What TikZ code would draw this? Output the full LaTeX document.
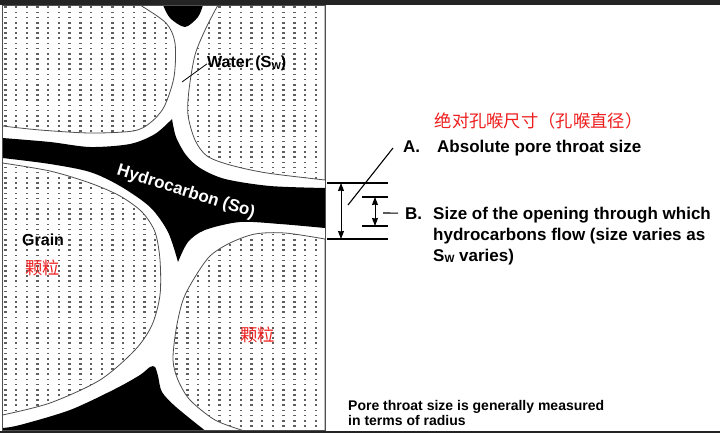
\documentclass[tikz,border=0pt]{standalone}
\usepackage{fontspec}
\setmainfont{Liberation Sans}
\newfontfamily\cjk{Noto Sans CJK SC}
\usetikzlibrary{arrows.meta}
\definecolor{cnred}{RGB}{238,30,30}
\definecolor{bar}{RGB}{36,36,36}
\definecolor{rim}{RGB}{78,78,78}
\definecolor{dot}{RGB}{95,95,95}
\newcommand{\Sw}{S\raisebox{-1.2pt}{\scalebox{0.62}{W}}}
\newcommand{\grainTL}{(2.5,5) -- plot[smooth] coordinates {(140,5) (166,23) (175,43) (174,77) (164,107) (150,123) (133,131) (90,133) (40,130) (2.5,126)} -- cycle}
\newcommand{\grainTR}{(325,5) -- (325,180) -- plot[smooth] coordinates {(325,180) (267,173) (230,165) (207,156) (195,140) (188,115) (189,90) (195,55) (206,28) (218,5)} -- cycle}
\newcommand{\grainBL}{(2.5,163) -- plot[smooth] coordinates {(2.5,163) (50,171) (90,183) (120,196) (142,212) (155,232) (160,260) (160,295) (152,325) (135,350) (100,380) (50,403) (2.5,415)} -- cycle}
\newcommand{\grainBR}{(325,430.5) -- plot[smooth] coordinates {(243,430.5) (215,420) (190,400) (178,380) (173,360) (176,330) (183,300) (195,277) (210,256) (230,243) (255,234) (285,233) (325,239)} -- cycle}

\begin{document}
\begin{tikzpicture}[x=1pt,y=-1pt,
  grain/.style={draw=rim,line width=0.8pt},
  oil/.style={fill=black},
  lbl/.style={inner sep=0pt,font=\fontsize{16}{19}\selectfont\bfseries},
  big/.style={inner sep=0pt,font=\fontsize{17}{21}\selectfont\bfseries},
  cn/.style={inner sep=0pt,text=cnred,font=\cjk\fontsize{17.3}{20}\selectfont},
  dim/.style={line width=1.3pt},
  dimarrow/.style={line width=0.9pt,{Stealth[length=8pt,width=6pt,inset=0.5pt]}-{Stealth[length=8pt,width=6pt,inset=0.5pt]}},
  leader/.style={line width=1.1pt}]
  \useasboundingbox (0,0) rectangle (720,433);
  \fill[white] (0,0) rectangle (720,433);

  \begin{scope}
    \clip \grainTL \grainTR \grainBL \grainBR;
    \foreach \i in {0,...,30}
      \foreach \j in {0,...,82}
        \fill[dot] ({4.2+10.7*\i},{6.4+5.17*\j}) rectangle ++(2.4,1.6);
  \end{scope}
  \draw[grain] \grainTL;
  \draw[grain] \grainTR;
  \draw[grain] \grainBL;
  \draw[grain] \grainBR;

  \fill[oil] (163,5) -- plot[smooth] coordinates {(163,5) (170,18) (185,27) (198,17) (203,5)} -- cycle;
  \fill[oil] (2.5,138) -- plot[smooth] coordinates {(2.5,138) (50,142) (90,147) (130,144) (155,134) (172,119)}
    -- plot[smooth] coordinates {(172,119) (176,137) (186,155) (200,168) (225,179) (270,186) (325,188)}
    -- (325,228) -- plot[smooth] coordinates {(325,228) (280,224) (240,222) (205,230) (188,242) (178,262)}
    -- plot[smooth] coordinates {(178,262) (168,232) (150,207) (120,186) (90,172) (50,164) (2.5,158)} -- cycle;
  \fill[oil] (2.5,430.5) -- plot[smooth] coordinates {(2.5,428) (20,425) (70,410) (115,389) (140,375) (150,367) (155,367) (158,376) (162,392) (176,407) (205,430.5)} -- cycle;

  \draw[rim,line width=0.8pt] (2.5,5) rectangle (325,430.5);
  \fill[bar] (0,0) rectangle (720,5);
  \fill[bar] (0,430.5) rectangle (720,433);

  \node[lbl,anchor=base west] (water) at (207,68) {Water (\Sw)};
  \coordinate (wFoot) at (182,82);
  \draw[line width=0.8pt] (wFoot) -- (water.west);
  \node[lbl,anchor=base west] (grain) at (22,245) {Grain};
  \node[cn] (grainCn) at (42.5,268) {颗粒};
  \node[cn] (grainCn2) at (257.5,335) {颗粒};
  \node[big,text=white,rotate=-17.5] (hc) at (186,192) {Hydrocarbon (So)};

  \node[cn] (sizeCn) at (538.5,121) {绝对孔喉尺寸（孔喉直径）};
  \node[big,anchor=base west] (markA) at (403,153) {A.};
  \node[big,anchor=base west] (textA) at (437,153) {Absolute pore throat size};
  \node[big,anchor=base west] (markB) at (405,219) {B.};
  \node[big,anchor=base west,align=left] (textB) at (433,261) {Size of the opening through which\\hydrocarbons flow (size varies as\\\Sw{} varies)};
  \node[anchor=base west,inner sep=0pt,align=left,font=\fontsize{14}{14.5}\selectfont\bfseries] (note) at (348,425) {Pore throat size is generally measured\\in terms of radius};

  \coordinate (aTopL) at (327,183); \coordinate (aTopR) at (388,183);
  \coordinate (aBotL) at (327,239); \coordinate (aBotR) at (388,239);
  \coordinate (bTopL) at (362,197); \coordinate (bTopR) at (388,197);
  \coordinate (bBotL) at (362,226); \coordinate (bBotR) at (388,226);
  \coordinate (aUp) at (341,183); \coordinate (aDown) at (341,239);
  \coordinate (bUp) at (375,197); \coordinate (bDown) at (375,226);
  \coordinate (aFoot) at (348,205); \coordinate (aHead) at (393,148);
  \coordinate (bStub) at (383,213);
  \draw[dim] (aTopL) -- (aTopR) (aBotL) -- (aBotR) (bTopL) -- (bTopR) (bBotL) -- (bBotR);
  \draw[dimarrow] (aUp) -- (aDown);
  \draw[dimarrow] (bUp) -- (bDown);
  \draw[leader] (aFoot) -- (aHead);
  \draw[leader,shorten >=7pt] (bStub) -- (markB.west);
\end{tikzpicture}
\end{document}
